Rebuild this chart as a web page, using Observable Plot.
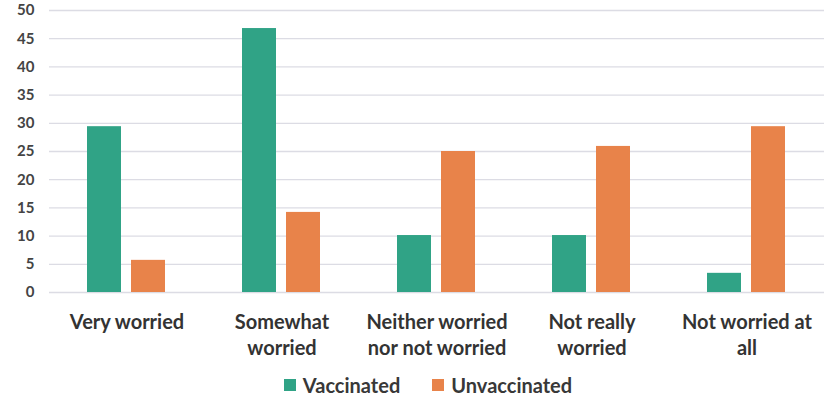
<!DOCTYPE html>
<html><head><meta charset="utf-8">
<script src="https://cdn.jsdelivr.net/npm/d3@7"></script>
<script src="https://cdn.jsdelivr.net/npm/@observablehq/plot@0.6"></script>
<style>
body{margin:0;background:#fff;font-family:Lato,sans-serif}
#legend{display:flex;justify-content:center;align-items:center;height:30px;padding-left:30px;font-size:20px;font-weight:700;color:#383838}
#legend span.sw{display:inline-block;width:12px;height:12px;margin-right:7px}
#legend span.item{display:inline-flex;align-items:center;margin:0 16px}
</style></head><body><div id="chart"></div><div id="legend"></div>
<script>
const categories = ["Very worried","Somewhat worried","Neither worried nor not worried","Not really worried","Not worried at all"];
const categoryLabels = ["Very worried","Somewhat\nworried","Neither worried\nnor not worried","Not really\nworried","Not worried at\nall"];
const series = ["Vaccinated","Unvaccinated"];
const vaccinated = [29.4,46.8,10.1,10.1,3.4];
const unvaccinated = [5.7,14.2,25.0,25.9,29.4];
const yTicks = [0,5,10,15,20,25,30,35,40,45,50];
const colors = ["#30a386","#e8834a"];

const rows = [];
categories.forEach((c,i)=>{
  rows.push({category:c, series:series[0], value:vaccinated[i]});
  rows.push({category:c, series:series[1], value:unvaccinated[i]});
});
const labelOf = new Map(categories.map((c,i)=>[c,categoryLabels[i]]));

const chart = Plot.plot({
  width:826, height:370,
  marginTop:10, marginBottom:78, marginLeft:47, marginRight:0,
  style:{fontFamily:"Lato, sans-serif", background:"#fff"},
  fx:{domain:categories, padding:0, axis:null},
  x:{domain:series, paddingInner:0.222, paddingOuter:0.844, axis:null},
  y:{domain:[0,50], ticks:yTicks, axis:null},
  color:{domain:series, range:colors},
  marks:[
    Plot.ruleY(yTicks,{stroke:"#dcdce4", strokeWidth:1.3}),
    Plot.barY(rows,{fx:"category", x:"series", y:"value", fill:"series"}),
    Plot.text(categories,{fx:d=>d, text:d=>labelOf.get(d), frameAnchor:"bottom", lineAnchor:"top", dy:18, lineHeight:1.3, fontSize:20, fontWeight:700, fill:"#333"}),
    Plot.text(yTicks,{fx:()=>categories[0], y:d=>d, text:d=>String(d), frameAnchor:"left", textAnchor:"end", dx:-15, fontSize:15, fontWeight:700, fill:"#444"})
  ]
});
document.getElementById("chart").appendChild(chart);
const lg = document.getElementById("legend");
series.forEach((s,i)=>{
  const it = document.createElement("span"); it.className="item";
  it.innerHTML = `<span class="sw" style="background:${colors[i]}"></span>${s}`;
  lg.appendChild(it);
});
</script></body></html>
